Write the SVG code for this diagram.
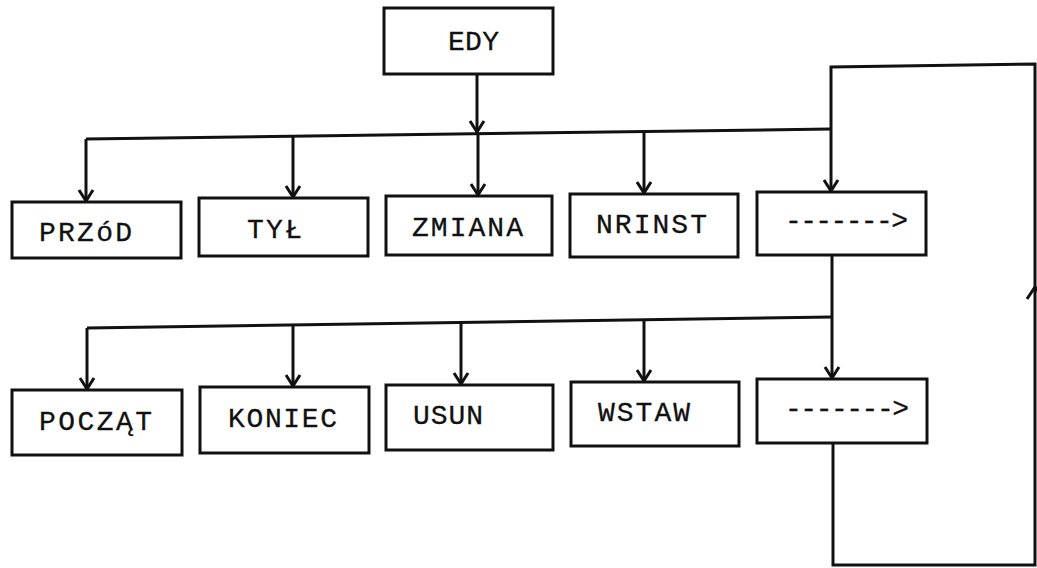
<svg xmlns="http://www.w3.org/2000/svg" width="1037" height="568" viewBox="0 0 1037 568">
<style>
.box{fill:#fff;stroke:#111;stroke-width:3}
.ln{fill:none;stroke:#111;stroke-width:3;stroke-linejoin:miter}
.t{font-family:"Liberation Mono","DejaVu Sans Mono",monospace;font-size:28px;fill:#111;stroke:#111;stroke-width:0.3}
</style>
<defs>
<marker id="ah" markerUnits="userSpaceOnUse" markerWidth="20" markerHeight="20" refX="0" refY="0" viewBox="-10 -10 20 20" orient="auto" overflow="visible">
<path d="M-11,-7 L0,0 L-11,7" fill="none" stroke="#111" stroke-width="3"/>
</marker>
</defs>
<rect width="1037" height="568" fill="#fff"/>
<g id="connectors">
<path class="ln" d="M477,74 L477,132" marker-end="url(#ah)"/>
<path class="ln" d="M86,139 L831,129"/>
<path class="ln" d="M86,139 L86,201" marker-end="url(#ah)"/>
<path class="ln" d="M293,136 L293,197" marker-end="url(#ah)"/>
<path class="ln" d="M478,134 L478,195" marker-end="url(#ah)"/>
<path class="ln" d="M644,131 L644,193" marker-end="url(#ah)"/>
<path class="ln" d="M832,255 L832,378" marker-end="url(#ah)"/>
<path class="ln" d="M831,129 L831,191" marker-end="url(#ah)"/>
<path class="ln" d="M87,328 L832,317"/>
<path class="ln" d="M87,328 L87,389" marker-end="url(#ah)"/>
<path class="ln" d="M293,325 L293,386" marker-end="url(#ah)"/>
<path class="ln" d="M461,323 L461,384" marker-end="url(#ah)"/>
<path class="ln" d="M644,320 L644,381" marker-end="url(#ah)"/>
<path class="ln" d="M833,443 L833,565 L1035,565 L1035,64 L831,67 L831,129"/>
<path class="ln" d="M1027,299 L1035,287 L1043,299"/>
</g>
<g id="edy"><rect class="box" x="384" y="8" width="169" height="66"/><text class="t" x="448" y="50" textLength="51" lengthAdjust="spacing">EDY</text></g>
<g id="przod"><rect class="box" x="12" y="202" width="169" height="56"/><text class="t" x="39" y="241" textLength="93" lengthAdjust="spacing">PRZóD</text></g>
<g id="tyl"><rect class="box" x="199" y="198" width="169" height="58"/><text class="t" x="247" y="238" textLength="55" lengthAdjust="spacing">TYŁ</text></g>
<g id="zmiana"><rect class="box" x="386" y="196" width="166" height="59"/><text class="t" x="412" y="236" textLength="111" lengthAdjust="spacing">ZMIANA</text></g>
<g id="nrinst"><rect class="box" x="570" y="194" width="168" height="63"/><text class="t" x="596" y="233" textLength="111" lengthAdjust="spacing">NRINST</text></g>
<g id="dalej1"><rect class="box" x="757" y="192" width="169" height="63"/><text class="t" x="785" y="229" textLength="123" lengthAdjust="spacing">-------&gt;</text></g>
<g id="poczat"><rect class="box" x="12" y="390" width="170" height="65"/><text class="t" x="39" y="430" textLength="113" lengthAdjust="spacing">POCZĄT</text></g>
<g id="koniec"><rect class="box" x="200" y="387" width="169" height="66"/><text class="t" x="228" y="427" textLength="109" lengthAdjust="spacing">KONIEC</text></g>
<g id="usun"><rect class="box" x="386" y="385" width="167" height="65"/><text class="t" x="413" y="424" textLength="70" lengthAdjust="spacing">USUN</text></g>
<g id="wstaw"><rect class="box" x="571" y="382" width="168" height="64"/><text class="t" x="598" y="421" textLength="92" lengthAdjust="spacing">WSTAW</text></g>
<g id="dalej2"><rect class="box" x="757" y="379" width="170" height="64"/><text class="t" x="785" y="417" textLength="124" lengthAdjust="spacing">-------&gt;</text></g>
</svg>
